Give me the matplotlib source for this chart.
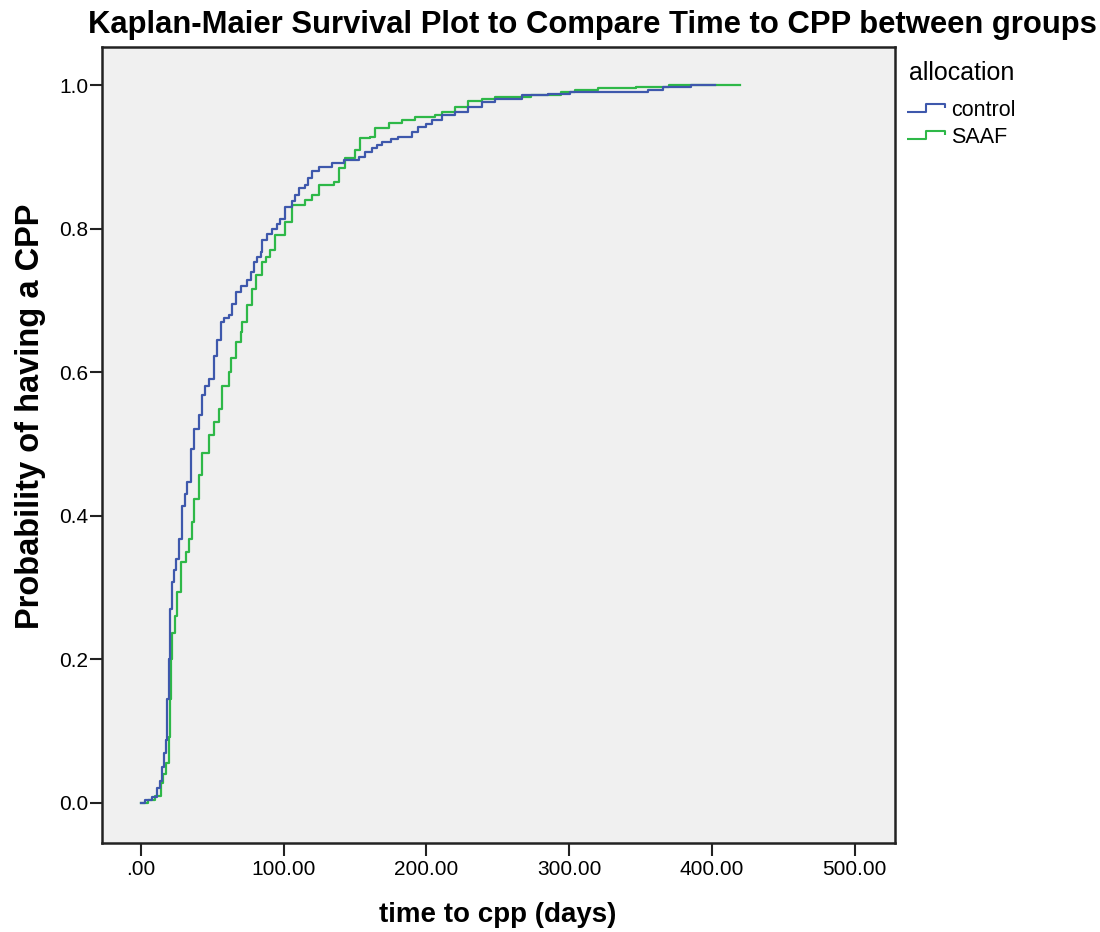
import matplotlib
matplotlib.use("Agg")
import matplotlib.pyplot as plt
from matplotlib.lines import Line2D
from matplotlib.path import Path

plt.rcParams['font.family'] = ['Liberation Sans', 'DejaVu Sans']

# Kaplan-Meier steps (days, cumulative probability)
control_t = [0, 3, 8, 11, 13, 14.7, 16, 17.3, 18.4, 19.5, 20.3, 21.9, 23, 24.2, 26.6, 28.9,
             30.5, 32.4, 34.7, 37.1, 40.6, 42.9, 45, 47.6, 51, 53, 55.7, 58, 61.5, 64, 66.2,
             70, 74.3, 77, 79, 81.3, 83.7, 84.8, 88, 91.8, 95, 97.7, 101.2, 105.8, 108, 110.5,
             115.2, 117, 119.8, 124.5, 133.8, 142, 152.4, 157, 161.7, 165, 168.7, 175, 180.4,
             189.7, 194.4, 200, 203.7, 210.6, 220, 229.4, 238.7, 248, 266.6, 285, 300.5, 355,
             366, 385.5, 402]
control_p = [0, 0.004, 0.008, 0.02, 0.03, 0.05, 0.07, 0.088, 0.144, 0.2, 0.27, 0.307, 0.325,
             0.34, 0.367, 0.414, 0.43, 0.447, 0.493, 0.521, 0.54, 0.568, 0.58, 0.591, 0.623,
             0.645, 0.67, 0.675, 0.679, 0.695, 0.712, 0.72, 0.728, 0.74, 0.754, 0.761, 0.767,
             0.784, 0.792, 0.8, 0.807, 0.814, 0.83, 0.838, 0.847, 0.856, 0.861, 0.87, 0.88,
             0.886, 0.891, 0.896, 0.9, 0.906, 0.912, 0.916, 0.921, 0.925, 0.928, 0.935, 0.941,
             0.946, 0.951, 0.958, 0.963, 0.97, 0.977, 0.981, 0.986, 0.988, 0.99, 0.993, 0.997,
             1.0, 1.0]

saaf_t = [0, 5, 10, 13.8, 15.5, 17.3, 19.6, 20.3, 20.8, 21.9, 23.8, 25.4, 27.7, 31.2, 33.6,
          35.9, 37.1, 40.6, 42.9, 47.6, 51, 54.5, 56.8, 61.5, 62.7, 66.2, 69.7, 70.8, 74.3,
          77.8, 80.2, 84.8, 87.2, 90.7, 94.2, 101.2, 105.8, 115.2, 119.8, 124.5, 135, 138.5,
          143.1, 150.1, 153.6, 160.6, 164, 173.4, 182.7, 192, 206, 210.6, 220, 229.4, 238.7,
          248, 273.6, 294.6, 303.8, 320, 347, 370, 420]
saaf_p = [0, 0.004, 0.01, 0.028, 0.04, 0.056, 0.092, 0.144, 0.2, 0.237, 0.26, 0.293, 0.335,
          0.35, 0.367, 0.391, 0.423, 0.456, 0.488, 0.512, 0.53, 0.549, 0.581, 0.6, 0.619,
          0.642, 0.656, 0.67, 0.693, 0.716, 0.735, 0.754, 0.761, 0.77, 0.791, 0.809, 0.833,
          0.84, 0.847, 0.861, 0.865, 0.884, 0.898, 0.91, 0.926, 0.928, 0.94, 0.947, 0.951,
          0.955, 0.958, 0.963, 0.97, 0.978, 0.981, 0.983, 0.986, 0.99, 0.993, 0.996, 0.997,
          1.0, 1.0]

groups = ['control', 'SAAF']
colors = ['#3E58AC', '#2EB848']
x_ticks = [0, 100, 200, 300, 400, 500]
x_tick_labels = ['.00', '100.00', '200.00', '300.00', '400.00', '500.00']
y_ticks = [0.0, 0.2, 0.4, 0.6, 0.8, 1.0]

fig = plt.figure(figsize=(11, 9.32), dpi=100)
ax = fig.add_axes([0.0927, 0.0955, 0.7205, 0.8541])
ax.set_facecolor('#F0F0F0')

ax.step(saaf_t, saaf_p, where='post', color=colors[1], lw=1.6)
ax.step(control_t, control_p, where='post', color=colors[0], lw=1.6)

ax.set_xlim(-27.4, 528)
ax.set_ylim(-0.056, 1.053)
ax.set_xticks(x_ticks)
ax.set_xticklabels(x_tick_labels)
ax.set_yticks(y_ticks)
ax.set_yticklabels(['%.1f' % v for v in y_ticks])
ax.tick_params(direction='out', length=9, width=1.5, labelsize=15, color='#222222')
ax.tick_params(axis='x', pad=3)
ax.tick_params(axis='y', pad=1)
for s in ax.spines.values():
    s.set_linewidth(1.8)
    s.set_color('#222222')

fig.text(592 / 1100, 1 - 33 / 932, 'Kaplan-Maier Survival Plot to Compare Time to CPP between groups',
         ha='center', va='baseline', fontsize=22.3, fontweight='bold')
fig.text(498 / 1100, 1 - 922 / 932, 'time to cpp (days)', ha='center', va='baseline',
         fontsize=20, fontweight='bold')
fig.text(31 / 1100, 1 - 416 / 932, 'Probability of having a CPP', ha='center', va='center',
         rotation=90, fontsize=23.5, fontweight='bold')

# legend title drawn on its own so the gap to the entries matches
fig.text(909 / 1100, 1 - 73 / 932, 'allocation', ha='left', va='center', fontsize=18)

# step shaped legend keys like the original
step_mark = Path([(-0.5, -0.1), (0, -0.1), (0, 0.1), (0.5, 0.1), (0.5, 0.0)],
                 [Path.MOVETO, Path.LINETO, Path.LINETO, Path.LINETO, Path.LINETO])
handles = [Line2D([], [], linestyle='none', marker=step_mark, markersize=28,
                  markerfacecolor='none', markeredgecolor=c, markeredgewidth=1.5)
           for c in colors]
leg = fig.legend(handles, groups, loc='upper left', bbox_to_anchor=(906 / 1100, 1 - 100 / 932),
                 frameon=False, fontsize=15.5, handlelength=1.85, handletextpad=0.25,
                 labelspacing=0.28, borderpad=0, borderaxespad=0)

fig.savefig('out.png', dpi=100, facecolor='white')
